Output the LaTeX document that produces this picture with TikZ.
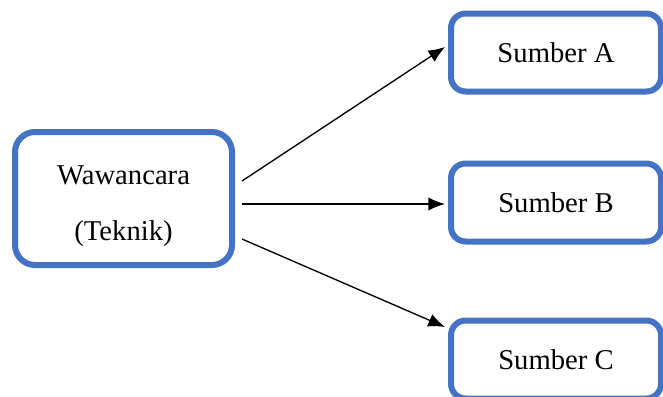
\documentclass[tikz,border=0pt]{standalone}
\usepackage{fontspec}
\setmainfont{Liberation Serif}
\usepackage{xcolor}
\usetikzlibrary{arrows.meta, positioning, calc}
\definecolor{boxblue}{HTML}{4472C4}

\begin{document}
\begin{tikzpicture}[x=0.75pt, y=-0.75pt]
\tikzstyle{metode} = [rectangle, rounded corners=15pt, minimum width=162.75pt, minimum height=99.75pt, align=center, draw=boxblue, line width=4.5pt, font=\fontsize{21.5}{42}\selectfont]
\tikzstyle{sumber} = [rectangle, rounded corners=11pt, minimum width=157.5pt, minimum height=58.5pt, text centered, draw=boxblue, line width=4.5pt, font=\fontsize{21.5}{26}\selectfont]
\tikzstyle{arrow} = [line width=1pt, -{Latex[length=12.5pt, width=10pt]}]

\useasboundingbox (0,0) rectangle (663,396);

\node[metode] (wawancara) at (123.5,198.5) {\rule{0pt}{26pt}Wawancara\\(Teknik)};
\node[sumber] (sumbera) at (556,52.5) {Sumber A};
\node[sumber] (sumberb) at (556,202.5) {Sumber B};
\node[sumber] (sumberc) at (556,359.5) {Sumber C};

\draw[arrow] ($(wawancara.east)+(7,-17.5)$) -- ($(sumbera.west)+(-3,-5.5)$);
\draw[arrow] ($(wawancara.east)+(7,5.5)$) -- ($(sumberb.west)+(-3,1.5)$);
\draw[arrow] ($(wawancara.east)+(7,40.5)$) -- ($(sumberc.west)+(-3,-32.5)$);
\end{tikzpicture}
\end{document}
